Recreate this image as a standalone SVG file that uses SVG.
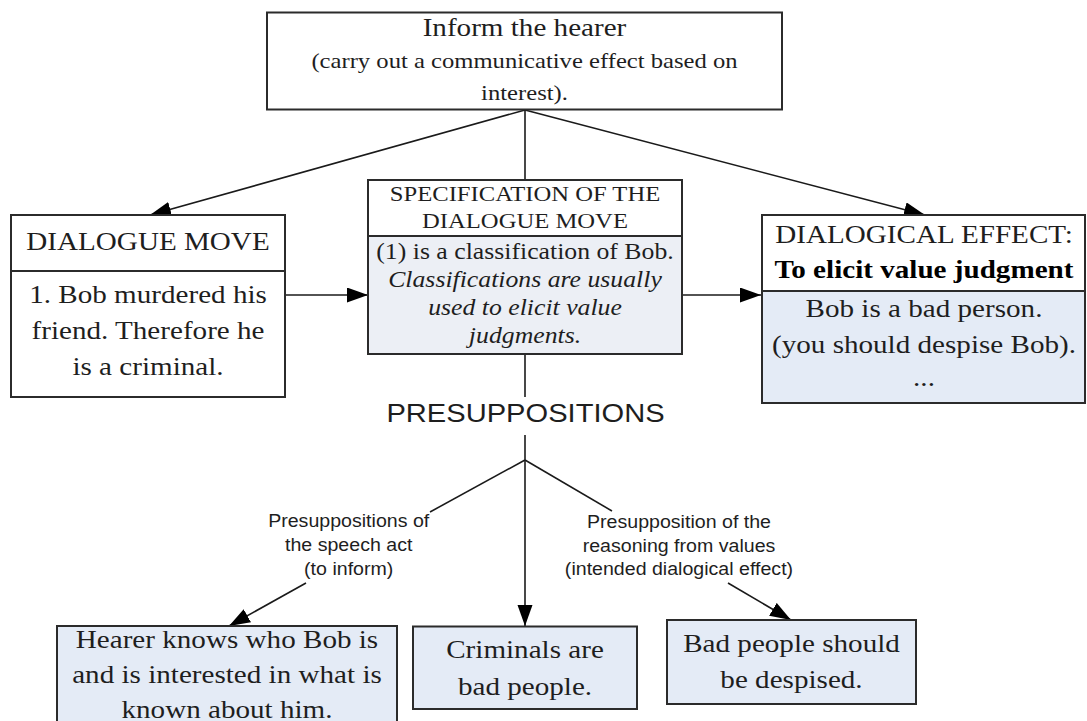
<svg xmlns="http://www.w3.org/2000/svg" width="1087" height="721" viewBox="0 0 1087 721">
<defs>
<style>
.box{stroke:#2b2b2b;stroke-width:2;fill:#fff}
.blue{fill:#e4ebf6}
.gray{fill:#eceff5}
.ln{stroke:#1a1a1a;stroke-width:1.6;fill:none}
.s{font-family:"Liberation Serif","Times New Roman",serif;fill:#1e1e1e;text-anchor:middle}
.f26{font-size:26px}
.f22{font-size:22px}
.f23{font-size:23px}
.b{font-weight:bold;fill:#000}
.i{font-style:italic}
.a{font-family:"Liberation Sans",Arial,sans-serif;fill:#1e1e1e;text-anchor:middle}
.lab{font-size:17.5px}
.big{font-size:26px}
</style>
<marker id="ah" markerUnits="userSpaceOnUse" markerWidth="22" markerHeight="16" refX="21" refY="7.5" orient="auto">
<path d="M0,0 L21,7.5 L0,15 Z" fill="#000"/>
</marker>
</defs>
<rect width="1087" height="721" fill="#fff"/>

<g id="connectors">
<line class="ln" x1="525" y1="110" x2="150" y2="215" marker-end="url(#ah)"/>
<line class="ln" x1="525" y1="110" x2="525" y2="180"/>
<line class="ln" x1="525" y1="110" x2="925" y2="215" marker-end="url(#ah)"/>
<line class="ln" x1="285" y1="295" x2="368" y2="295" marker-end="url(#ah)"/>
<line class="ln" x1="682" y1="295" x2="761" y2="295" marker-end="url(#ah)"/>
<line class="ln" x1="525" y1="354" x2="525" y2="397"/>
<line class="ln" x1="525" y1="435" x2="525" y2="626" marker-end="url(#ah)"/>
<line class="ln" x1="525" y1="460" x2="430" y2="512"/>
<line class="ln" x1="306" y1="583" x2="229" y2="626" marker-end="url(#ah)"/>
<line class="ln" x1="525" y1="460" x2="612" y2="511"/>
<line class="ln" x1="728" y1="583" x2="791" y2="620" marker-end="url(#ah)"/>
<g transform="translate(348.7,0) scale(1.12,1)">
<text class="a lab" x="0" y="527">Presuppositions of</text>
<text class="a lab" x="0" y="551.5">the speech act</text>
<text class="a lab" x="0" y="575">(to inform)</text>
</g>
<g transform="translate(679,0) scale(1.12,1)">
<text class="a lab" x="0" y="528">Presupposition of the</text>
<text class="a lab" x="0" y="552">reasoning from values</text>
<text class="a lab" x="0" y="575">(intended dialogical effect)</text>
</g>
</g>

<g id="inform">
<rect class="box" x="267" y="12.5" width="515" height="97"/>
<g transform="translate(524.5,0) scale(1.12,1)">
<text class="s f26" x="0" y="36.5">Inform the hearer</text>
<text class="s f22" x="0" y="68">(carry out a communicative effect based on</text>
<text class="s f22" x="0" y="100.5">interest).</text>
</g>
</g>

<g id="dialogue-move">
<rect class="box" x="11" y="215" width="274" height="182"/>
<line class="box" x1="11" y1="271" x2="285" y2="271"/>
<g transform="translate(148,0) scale(1.12,1)">
<text class="s f26" x="0" y="250">DIALOGUE MOVE</text>
<text class="s f26" x="0" y="303">1. Bob murdered his</text>
<text class="s f26" x="0" y="339.5">friend. Therefore he</text>
<text class="s f26" x="0" y="375">is a criminal.</text>
</g>
</g>

<g id="specification">
<rect class="box" x="368" y="180" width="314" height="174"/>
<rect class="box gray" x="368" y="236" width="314" height="118"/>
<g transform="translate(525,0) scale(1.12,1)">
<text class="s f22" x="0" y="201.5">SPECIFICATION OF THE</text>
<text class="s f22" x="0" y="228">DIALOGUE MOVE</text>
<text class="s f23" x="0" y="259">(1) is a classification of Bob.</text>
<text class="s f23 i" x="0" y="287">Classifications are usually</text>
<text class="s f23 i" x="0" y="315">used to elicit value</text>
<text class="s f23 i" x="0" y="343">judgments.</text>
</g>
</g>

<g id="dialogical-effect">
<rect class="box" x="762" y="215" width="323" height="188"/>
<rect class="box blue" x="762" y="291" width="323" height="112"/>
<g transform="translate(924,0) scale(1.12,1)">
<text class="s f26" x="0" y="243">DIALOGICAL EFFECT:</text>
<text class="s f26 b" x="0" y="278">To elicit value judgment</text>
<text class="s f26" x="0" y="317.5">Bob is a bad person.</text>
<text class="s f26" x="0" y="353">(you should despise Bob).</text>
<text class="s f26" x="0" y="386.5">...</text>
</g>
</g>

<g id="presuppositions">
<g transform="translate(525.5,0) scale(1.12,1)">
<text class="a big" x="0" y="422.5">PRESUPPOSITIONS</text>
</g>
</g>

<g id="hearer">
<rect class="box blue" x="57" y="626" width="340" height="120"/>
<g transform="translate(227,0) scale(1.12,1)">
<text class="s f26" x="0" y="648">Hearer knows who Bob is</text>
<text class="s f26" x="0" y="683">and is interested in what is</text>
<text class="s f26" x="0" y="718">known about him.</text>
</g>
</g>

<g id="criminals">
<rect class="box blue" x="413" y="626.5" width="224" height="82.5"/>
<g transform="translate(525,0) scale(1.12,1)">
<text class="s f26" x="0" y="658">Criminals are</text>
<text class="s f26" x="0" y="695">bad people.</text>
</g>
</g>

<g id="bad-people">
<rect class="box blue" x="667" y="620" width="249" height="84"/>
<g transform="translate(791.5,0) scale(1.12,1)">
<text class="s f26" x="0" y="652">Bad people should</text>
<text class="s f26" x="0" y="688">be despised.</text>
</g>
</g>
</svg>
